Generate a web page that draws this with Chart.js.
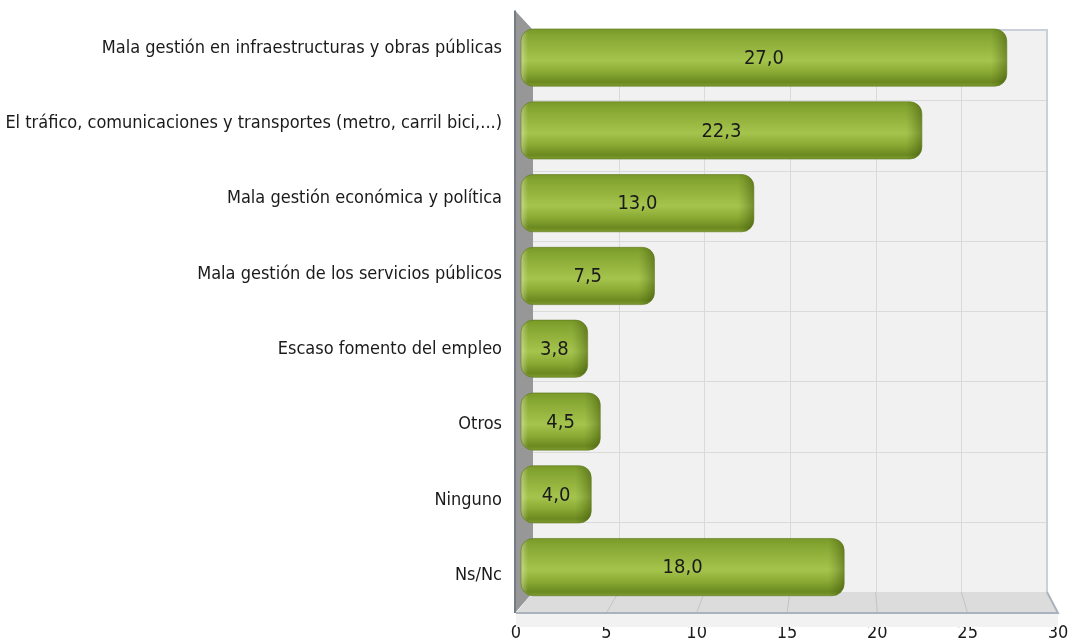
<!DOCTYPE html>
<html>
<head>
<meta charset="utf-8">
<script src="https://cdn.jsdelivr.net/npm/chart.js@4/dist/chart.umd.min.js"></script>
<style>
  body { margin: 0; background: #fff; }
  #wrap { width: 1081px; height: 642px; position: relative; }
</style>
</head>
<body>
<div id="wrap"><canvas id="chart"></canvas></div>
<script>
const categories = [
  'Mala gestión en infraestructuras y obras públicas',
  'El tráfico, comunicaciones y transportes (metro, carril bici,...)',
  'Mala gestión económica y política',
  'Mala gestión de los servicios públicos',
  'Escaso fomento del empleo',
  'Otros',
  'Ninguno',
  'Ns/Nc'
];
const values = [27.0, 22.3, 13.0, 7.5, 3.8, 4.5, 4.0, 18.0];
const xTicks = [0, 5, 10, 15, 20, 25, 30];

const FONT = '"DejaVu Sans Condensed", "DejaVu Sans", sans-serif';

// profundidad del efecto 3D
const DEPTH_X = 17;
const WALL_TOP = 30;
const FLOOR_BACK = 592;

function backY(chart, yFront) {
  const ca = chart.chartArea;
  return WALL_TOP + (yFront - ca.top) * (FLOOR_BACK - WALL_TOP) / (ca.bottom - ca.top);
}

// paredes del grafico 3D (fondo, suelo, pared izquierda)
const wallsPlugin = {
  id: 'walls',
  beforeDatasetsDraw(chart) {
    const { ctx, chartArea: ca, scales: { x, y } } = chart;
    const backLeft = ca.left + DEPTH_X;
    const backRight = ca.right - 11;
    const floorFront = ca.bottom;
    const bx = v => backLeft + (x.getPixelForValue(v) - ca.left) * (backRight - backLeft) / (ca.right - ca.left);

    ctx.save();
    // fondo
    ctx.fillStyle = '#f1f1f1';
    ctx.fillRect(backLeft, WALL_TOP, backRight - backLeft, FLOOR_BACK - WALL_TOP);

    ctx.strokeStyle = '#dadada';
    ctx.lineWidth = 1;
    xTicks.forEach(v => {
      if (v === 0 || v === 30) return;
      const px = Math.round(bx(v)) + 0.5;
      ctx.beginPath();
      ctx.moveTo(px, WALL_TOP);
      ctx.lineTo(px, FLOOR_BACK);
      ctx.stroke();
    });
    const step = y.getPixelForValue(1) - y.getPixelForValue(0);
    for (let i = 0; i < categories.length - 1; i++) {
      const py = Math.round(backY(chart, y.getPixelForValue(i) + step / 2)) + 0.5;
      ctx.beginPath();
      ctx.moveTo(backLeft, py);
      ctx.lineTo(backRight, py);
      ctx.stroke();
    }
    // borde del fondo
    ctx.strokeStyle = '#c9d0da';
    ctx.lineWidth = 2;
    ctx.beginPath();
    ctx.moveTo(backLeft, WALL_TOP);
    ctx.lineTo(backRight, WALL_TOP);
    ctx.lineTo(backRight, FLOOR_BACK);
    ctx.stroke();

    // franja bajo el suelo
    ctx.fillStyle = '#f2f2f2';
    ctx.fillRect(ca.left, floorFront, ca.right - ca.left, 14);

    // suelo
    ctx.fillStyle = '#dcdcdc';
    ctx.beginPath();
    ctx.moveTo(ca.left, floorFront);
    ctx.lineTo(backLeft, FLOOR_BACK);
    ctx.lineTo(backRight, FLOOR_BACK);
    ctx.lineTo(ca.right, floorFront);
    ctx.closePath();
    ctx.fill();
    ctx.strokeStyle = '#c4c4c4';
    ctx.lineWidth = 1;
    xTicks.forEach(v => {
      if (v === 0 || v === 30) return;
      ctx.beginPath();
      ctx.moveTo(bx(v), FLOOR_BACK);
      ctx.lineTo(x.getPixelForValue(v), floorFront);
      ctx.stroke();
    });
    ctx.strokeStyle = '#aab2bd';
    ctx.lineWidth = 2;
    ctx.beginPath();
    ctx.moveTo(ca.left, floorFront);
    ctx.lineTo(ca.right, floorFront);
    ctx.lineTo(backRight, FLOOR_BACK);
    ctx.stroke();

    // pared izquierda
    ctx.fillStyle = '#979797';
    ctx.beginPath();
    ctx.moveTo(ca.left - 1, ca.top);
    ctx.lineTo(backLeft, WALL_TOP);
    ctx.lineTo(backLeft, FLOOR_BACK);
    ctx.lineTo(ca.left - 1, floorFront);
    ctx.closePath();
    ctx.fill();
    ctx.strokeStyle = '#737b86';
    ctx.lineWidth = 2;
    ctx.beginPath();
    ctx.moveTo(ca.left - 1, ca.top);
    ctx.lineTo(ca.left - 1, floorFront);
    ctx.stroke();
    ctx.restore();
  }
};

// barras cilindricas + etiquetas de valor (a media profundidad)
const barsPlugin = {
  id: 'cylBars',
  afterDatasetsDraw(chart) {
    const { ctx } = chart;
    const meta = chart.getDatasetMeta(0);
    ctx.save();
    meta.data.forEach((el, i) => {
      const p = el.getProps(['x', 'y', 'base', 'height'], true);
      const yc = (p.y + backY(chart, p.y)) / 2 + 1;
      const x0 = p.base + 5;
      const x1 = p.x + 3;
      const h = p.height;
      const top = yc - h / 2;
      const r = 12;

      ctx.beginPath();
      ctx.roundRect(x0, top, x1 - x0, h, r);
      const g = ctx.createLinearGradient(0, top, 0, top + h);
      g.addColorStop(0, '#789828');
      g.addColorStop(0.1, '#84a431');
      g.addColorStop(0.45, '#9ebd46');
      g.addColorStop(0.55, '#a5c44d');
      g.addColorStop(0.75, '#8aaa34');
      g.addColorStop(0.93, '#6b8920');
      g.addColorStop(1, '#7d9b2f');
      ctx.fillStyle = g;
      ctx.fill();

      ctx.save();
      ctx.clip();
      const cap = ctx.createLinearGradient(x1 - 16, 0, x1, 0);
      cap.addColorStop(0, 'rgba(50,70,5,0)');
      cap.addColorStop(0.35, 'rgba(50,70,5,0.12)');
      cap.addColorStop(1, 'rgba(40,60,0,0.4)');
      ctx.fillStyle = cap;
      ctx.fillRect(x1 - 16, top, 16, h);
      const rim = ctx.createLinearGradient(x0, 0, x0 + 7, 0);
      rim.addColorStop(0, 'rgba(255,255,235,0.35)');
      rim.addColorStop(1, 'rgba(255,255,235,0)');
      ctx.fillStyle = rim;
      ctx.fillRect(x0, top, 7, h);
      ctx.restore();

      ctx.strokeStyle = 'rgba(95,120,30,0.6)';
      ctx.lineWidth = 1;
      ctx.stroke();

      ctx.fillStyle = '#1a1a1a';
      ctx.font = '20px ' + FONT;
      ctx.textAlign = 'center';
      ctx.textBaseline = 'middle';
      ctx.fillText(values[i].toFixed(1).replace('.', ','), (x0 + x1) / 2, yc + 1);
    });
    ctx.restore();
  }
};

new Chart(document.getElementById('chart'), {
  type: 'bar',
  data: {
    labels: categories,
    datasets: [{
      data: values,
      backgroundColor: 'rgba(0,0,0,0)',
      borderWidth: 0,
      categoryPercentage: 0.76,
      barPercentage: 1
    }]
  },
  options: {
    indexAxis: 'y',
    responsive: true,
    maintainAspectRatio: false,
    animation: false,
    layout: { padding: { top: 10.4, right: 23, left: 0, bottom: 0 } },
    plugins: { legend: { display: false }, tooltip: { enabled: false } },
    scales: {
      x: {
        min: 0,
        max: 30,
        afterBuildTicks: s => { s.ticks = xTicks.map(v => ({ value: v })); },
        ticks: { color: '#1a1a1a', font: { family: FONT, size: 18 }, padding: 10, maxRotation: 0 },
        grid: { display: false, drawTicks: false },
        border: { display: false },
        afterFit: s => { s.height = 29; s.paddingLeft = 0; s.paddingRight = 0; }
      },
      y: {
        ticks: { color: '#1a1a1a', font: { family: FONT, size: 18 }, padding: 14 },
        grid: { display: false, drawTicks: false },
        border: { display: false },
        afterFit: s => { s.width = 516; s.paddingTop = 0; s.paddingBottom = 0; }
      }
    }
  },
  plugins: [wallsPlugin, barsPlugin]
});
</script>
</body>
</html>
